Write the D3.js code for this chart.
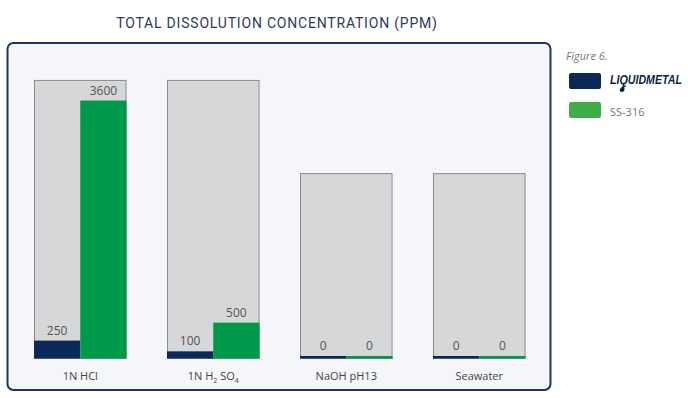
<!DOCTYPE html>
<html>
<head>
  <meta charset="UTF-8">
  <style>
    body { margin: 0; background: #ffffff; }
    svg { display: block; }
    .title { font-family: Roboto, sans-serif; font-size: 14px; fill: #2c3c5c; letter-spacing: 0.8px; }
    .val { font-family: "Open Sans", sans-serif; font-size: 12px; fill: #555; text-anchor: middle; }
    .cat { font-family: "Open Sans", sans-serif; font-size: 11px; fill: #444; text-anchor: middle; }
    .leg { font-family: "Open Sans", sans-serif; font-size: 11px; fill: #777; }
  </style>
</head>
<body>
<script src="https://d3js.org/d3.v7.min.js"></script>
<script>
  // data
  let categories = ["1N HCl", "1N H2SO4", "NaOH pH13", "Seawater"];
  let series = ["LIQUIDMETAL", "SS-316"];
  let liquidmetal = [250, 100, 0, 0];
  let ss316 = [3600, 500, 0, 0];
  let boxTop = [3880, 3880, 2580, 2580]; // height of the grey backing boxes

  let width = 690, height = 398;
  let colours = ["#0c2859", "#009849"];
  let legendColours = ["#0c2859", "#3fae4a"];

  let svg = d3.select("body").append("svg")
    .attr("width", width)
    .attr("height", height);

  svg.append("text")
    .attr("class", "title")
    .attr("x", 277)
    .attr("y", 28)
    .attr("text-anchor", "middle")
    .text("TOTAL DISSOLUTION CONCENTRATION (PPM)");

  // panel
  svg.append("rect")
    .attr("x", 7.5).attr("y", 43)
    .attr("width", 543).attr("height", 347)
    .attr("rx", 6)
    .attr("fill", "#f5f6f9")
    .attr("stroke", "#1f3561")
    .attr("stroke-width", 2);

  let x = d3.scaleBand()
    .domain(categories)
    .range([34, 526])
    .paddingInner(0.305);

  let xs = d3.scaleBand()
    .domain(series)
    .range([0, x.bandwidth()]);

  let y = d3.scaleLinear()
    .domain([0, 3600])
    .range([358.5, 100.5]);

  let rows = categories.map((c, i) => ({
    cat: c,
    box: boxTop[i],
    vals: [liquidmetal[i], ss316[i]]
  }));

  let g = svg.append("g").selectAll("g")
    .data(rows)
    .enter()
    .append("g")
    .attr("transform", d => "translate(" + Math.round(x(d.cat)) + ",0)");

  // grey backing box
  g.append("rect")
    .attr("x", 0.5)
    .attr("y", d => y(d.box))
    .attr("width", x.bandwidth() - 1)
    .attr("height", d => y(0) - y(d.box))
    .attr("fill", "#d6d7d9")
    .attr("stroke", "#8c8c8c")
    .attr("stroke-width", 1);

  // bars
  g.selectAll(".bar")
    .data(d => d.vals.map((v, j) => ({ s: series[j], v: v, j: j })))
    .enter()
    .append("rect")
    .attr("class", "bar")
    .attr("x", d => xs(d.s))
    .attr("width", xs.bandwidth())
    .attr("y", d => Math.min(y(d.v), y(0) - 2.5))
    .attr("height", d => Math.max(y(0) - y(d.v), 2.5))
    .attr("fill", d => colours[d.j]);

  // value labels
  g.selectAll(".val")
    .data(d => d.vals.map((v, j) => ({ s: series[j], v: v })))
    .enter()
    .append("text")
    .attr("class", "val")
    .attr("x", d => xs(d.s) + xs.bandwidth() / 2)
    .attr("y", d => Math.min(y(d.v), y(0) - 2.5) - 6)
    .text(d => d.v);

  // category labels (with subscripts for H2SO4)
  g.append("text")
    .attr("class", "cat")
    .attr("x", x.bandwidth() / 2)
    .attr("y", 380)
    .each(function(d) {
      let t = d3.select(this);
      if (d.cat === "1N H2SO4") {
        t.append("tspan").text("1N H");
        t.append("tspan").attr("font-size", "7px").attr("dy", 3).text("2");
        t.append("tspan").attr("dy", -3).text(" SO");
        t.append("tspan").attr("font-size", "7px").attr("dy", 3).text("4");
      } else {
        t.text(d.cat);
      }
    });

  // legend
  let legend = svg.append("g");

  legend.append("text")
    .attr("class", "leg")
    .attr("x", 566).attr("y", 60)
    .attr("font-size", "9px")
    .attr("font-style", "italic")
    .attr("fill", "#888")
    .text("Figure 6.");

  legend.selectAll("rect")
    .data(series)
    .enter()
    .append("rect")
    .attr("x", 569)
    .attr("y", (d, i) => 73 + i * 29)
    .attr("width", 32)
    .attr("height", 16)
    .attr("rx", 2)
    .attr("fill", (d, i) => legendColours[i]);

  legend.append("text")
    .attr("x", 610).attr("y", 84)
    .attr("font-family", "'Liberation Sans', sans-serif")
    .attr("font-size", "12px")
    .attr("font-weight", "bold")
    .attr("font-style", "italic")
    .attr("fill", "#0f1f3f")
    .attr("textLength", 72)
    .attr("lengthAdjust", "spacingAndGlyphs")
    .text("LIQUIDMETAL");

  // little drop under the Q of the logo
  legend.append("path")
    .attr("d", "M624,85 C622,87 619,89 620,91 C621,93 625,92 624.5,89 Z")
    .attr("fill", "#0f1f3f");

  legend.append("text")
    .attr("class", "leg")
    .attr("x", 610).attr("y", 116)
    .text("SS-316");
</script>
</body>
</html>
